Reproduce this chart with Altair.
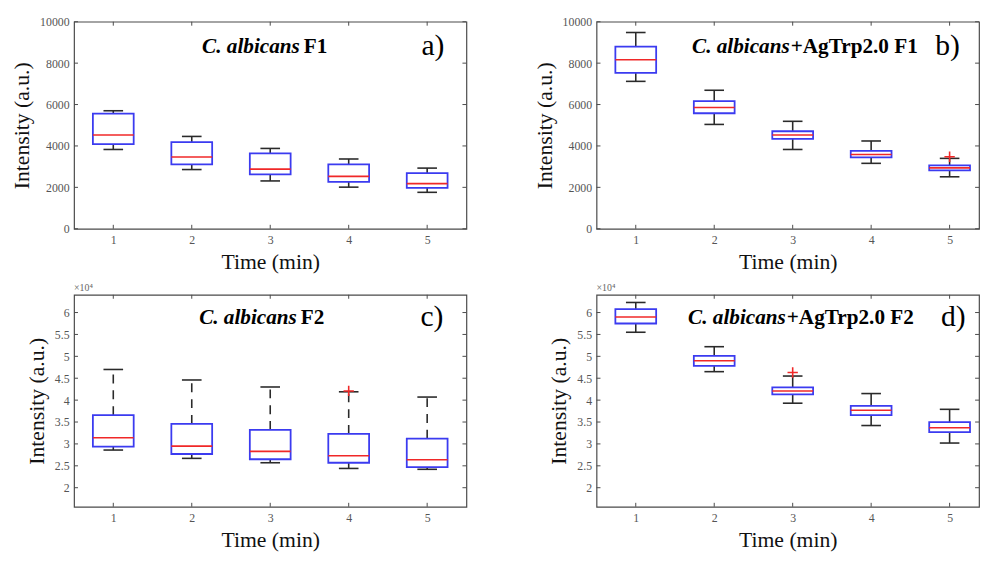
import altair as alt
import pandas as pd

# ---------------- data ----------------
times = [1, 2, 3, 4, 5]

# panel a: C. albicans F1
a_hi = [5700, 4460, 3880, 3370, 2930]
a_q3 = [5560, 4190, 3640, 3110, 2690]
a_med = [4530, 3470, 2880, 2530, 2180]
a_q1 = [4090, 3110, 2630, 2260, 1970]
a_lo = [3830, 2860, 2310, 2010, 1760]
a_out_t = []
a_out_v = []

# panel b: C. albicans + AgTrp2.0 F1
b_hi = [9480, 6690, 5190, 4240, 3400]
b_q3 = [8800, 6160, 4710, 3760, 3060]
b_med = [8160, 5860, 4530, 3590, 2940]
b_q1 = [7530, 5580, 4340, 3450, 2820]
b_lo = [7120, 5040, 3830, 3160, 2510]
b_out_t = [5]
b_out_v = [3480]

# panel c: C. albicans F2
c_hi = [47000, 44600, 43000, 41900, 40700]
c_q3 = [36600, 34600, 33200, 32300, 31200]
c_med = [31400, 29500, 28300, 27300, 26400]
c_q1 = [29400, 27700, 26500, 25700, 24700]
c_lo = [28600, 26700, 25700, 24400, 24200]
c_out_t = [4]
c_out_v = [42100]

# panel d: C. albicans + AgTrp2.0 F2
d_hi = [62300, 52200, 45500, 41500, 37900]
d_q3 = [60800, 50100, 42900, 38700, 35000]
d_med = [59000, 49000, 42100, 37700, 33700]
d_q1 = [57500, 47800, 41300, 36600, 32700]
d_lo = [55500, 46500, 39300, 34200, 30200]
d_out_t = [3]
d_out_v = [46300]

f1_ticks = [0, 2000, 4000, 6000, 8000, 10000]
f2_ticks = [20000, 25000, 30000, 35000, 40000, 45000, 50000, 55000, 60000]

title_species = "C. albicans"
titles_rest = ["F1", "+AgTrp2.0 F1", "F2", "+AgTrp2.0 F2"]
letters = ["a)", "b)", "c)", "d)"]
x10_label = "×10⁴"

# ---------------- style ----------------
FONT = "Liberation Serif"
BLUE = "#3b3bf0"
RED = "#f02828"
WHISK = "#2a2a2a"
FRAME = "#4a4a4a"


def make_df(hi, q3, med, q1, lo):
    return pd.DataFrame({"t": times, "hi": hi, "q3": q3, "med": med, "q1": q1, "lo": lo})


def panel(df, out_t, out_v, ydom, yvals, scaled, rest, letter, dashed,
          width, height, xmax, title_x, rest_x, letter_x, title_y):
    xs = alt.Scale(domain=[0.5, xmax], nice=False, zero=False)
    ys = alt.Scale(domain=ydom, nice=False, zero=False)
    xaxis = alt.Axis(values=times, title="Time (min)", ticks=False, domain=False,
                     grid=False, labelPadding=6, titlePadding=6, format="d")
    ykw = dict(values=yvals, title="Intensity (a.u.)", ticks=False, domain=False,
               grid=False, labelPadding=5, titlePadding=6)
    if scaled:
        ykw["labelExpr"] = "datum.value / 10000 + ''"
    else:
        ykw["format"] = "d"
    yaxis = alt.Axis(**ykw)

    def X(f):
        return alt.X(f"{f}:Q", scale=xs, axis=xaxis)

    def Y(f):
        return alt.Y(f"{f}:Q", scale=ys, axis=yaxis)

    base = alt.Chart(df).transform_calculate(
        xl="datum.t - 0.26", xr="datum.t + 0.26",
        cl="datum.t - 0.125", cr="datum.t + 0.125")

    dash = dict(strokeDash=[9, 7]) if dashed else {}
    up = base.mark_rule(color=WHISK, strokeWidth=1.6, **dash).encode(
        x=X("t"), y=Y("q3"), y2=alt.Y2("hi"))
    down = base.mark_rule(color=WHISK, strokeWidth=1.6, **dash).encode(
        x=X("t"), y=Y("lo"), y2=alt.Y2("q1"))
    cap_hi = base.mark_rule(color=WHISK, strokeWidth=1.6).encode(
        x=X("cl"), x2=alt.X2("cr"), y=Y("hi"))
    cap_lo = base.mark_rule(color=WHISK, strokeWidth=1.6).encode(
        x=X("cl"), x2=alt.X2("cr"), y=Y("lo"))
    box = base.mark_rect(filled=False, stroke=BLUE, strokeWidth=1.8).encode(
        x=X("xl"), x2=alt.X2("xr"), y=Y("q1"), y2=alt.Y2("q3"))
    med = base.mark_rule(color=RED, strokeWidth=1.6).encode(
        x=X("xl"), x2=alt.X2("xr"), y=Y("med"))

    tick = alt.Chart(pd.DataFrame({"t": times})).mark_rule(color=FRAME, strokeWidth=1)
    xt_bot = tick.encode(x=X("t"), y=alt.value(height), y2=alt.value(height - 4))
    xt_top = tick.encode(x=X("t"), y=alt.value(0), y2=alt.value(4))
    ytick = alt.Chart(pd.DataFrame({"v": yvals})).mark_rule(color=FRAME, strokeWidth=1)
    yt_l = ytick.encode(y=Y("v"), x=alt.value(0), x2=alt.value(4))
    yt_r = ytick.encode(y=Y("v"), x=alt.value(width - 4), x2=alt.value(width))

    t1 = alt.Chart(pd.DataFrame({"s": [title_species]})).mark_text(
        font=FONT, fontSize=21.5, fontStyle="italic", fontWeight="bold",
        align="right", baseline="alphabetic", color="#000").encode(
        text="s:N", x=alt.value(title_x), y=alt.value(title_y))
    t2 = alt.Chart(pd.DataFrame({"s": [rest]})).mark_text(
        font=FONT, fontSize=21.5, fontWeight="bold",
        align="left", baseline="alphabetic", color="#000").encode(
        text="s:N", x=alt.value(rest_x), y=alt.value(title_y))
    t3 = alt.Chart(pd.DataFrame({"s": [letter]})).mark_text(
        font=FONT, fontSize=30, align="center", baseline="alphabetic",
        color="#000").encode(
        text="s:N", x=alt.value(letter_x), y=alt.value(title_y + 2))

    layers = [up, down, cap_hi, cap_lo, box, med, xt_bot, xt_top, yt_l, yt_r, t1, t2, t3]
    if out_t:
        out = alt.Chart(pd.DataFrame({"t": out_t, "v": out_v})).mark_point(
            shape="M-1,0H1M0,-1V1", size=110, stroke=RED, strokeWidth=1.6,
            filled=False, opacity=1).encode(x=X("t"), y=Y("v"))
        layers.append(out)
    if scaled:
        t4 = alt.Chart(pd.DataFrame({"s": [x10_label]})).mark_text(
            font=FONT, fontSize=10, align="left", baseline="alphabetic",
            color="#666").encode(text="s:N", x=alt.value(0), y=alt.value(-4))
        layers.append(t4)
    return alt.layer(*layers).properties(width=width, height=height)


pa = panel(make_df(a_hi, a_q3, a_med, a_q1, a_lo), a_out_t, a_out_v, [0, 10000], f1_ticks,
           False, titles_rest[0], letters[0], False, 398, 210, 5.5, 229, 233, 364, 32)
pb = panel(make_df(b_hi, b_q3, b_med, b_q1, b_lo), b_out_t, b_out_v, [0, 10000], f1_ticks,
           False, titles_rest[1], letters[1], False, 388, 210, 5.375, 196, 197, 356, 32)
pc = panel(make_df(c_hi, c_q3, c_med, c_q1, c_lo), c_out_t, c_out_v, [15650, 64050], f2_ticks,
           True, titles_rest[2], letters[2], True, 398, 215, 5.5, 226, 230, 363, 30)
pd_ = panel(make_df(d_hi, d_q3, d_med, d_q1, d_lo), d_out_t, d_out_v, [15650, 64050], f2_ticks,
            True, titles_rest[3], letters[3], False, 388, 215, 5.375, 192, 193, 362, 30)

chart = alt.concat(pa, pb, pc, pd_, columns=2, spacing={"row": 9, "column": 65}).properties(
    padding={"left": 2, "top": 3, "right": 0, "bottom": 0},
    background="white",
).configure_view(stroke=FRAME, strokeWidth=1.2).configure_axis(
    labelFont=FONT, labelFontSize=12, labelColor="#555",
    titleFont=FONT, titleFontSize=22, titleFontWeight="normal", titleColor="#111",
)

chart.save("out.html", embed_options={"renderer": "svg", "actions": False})
